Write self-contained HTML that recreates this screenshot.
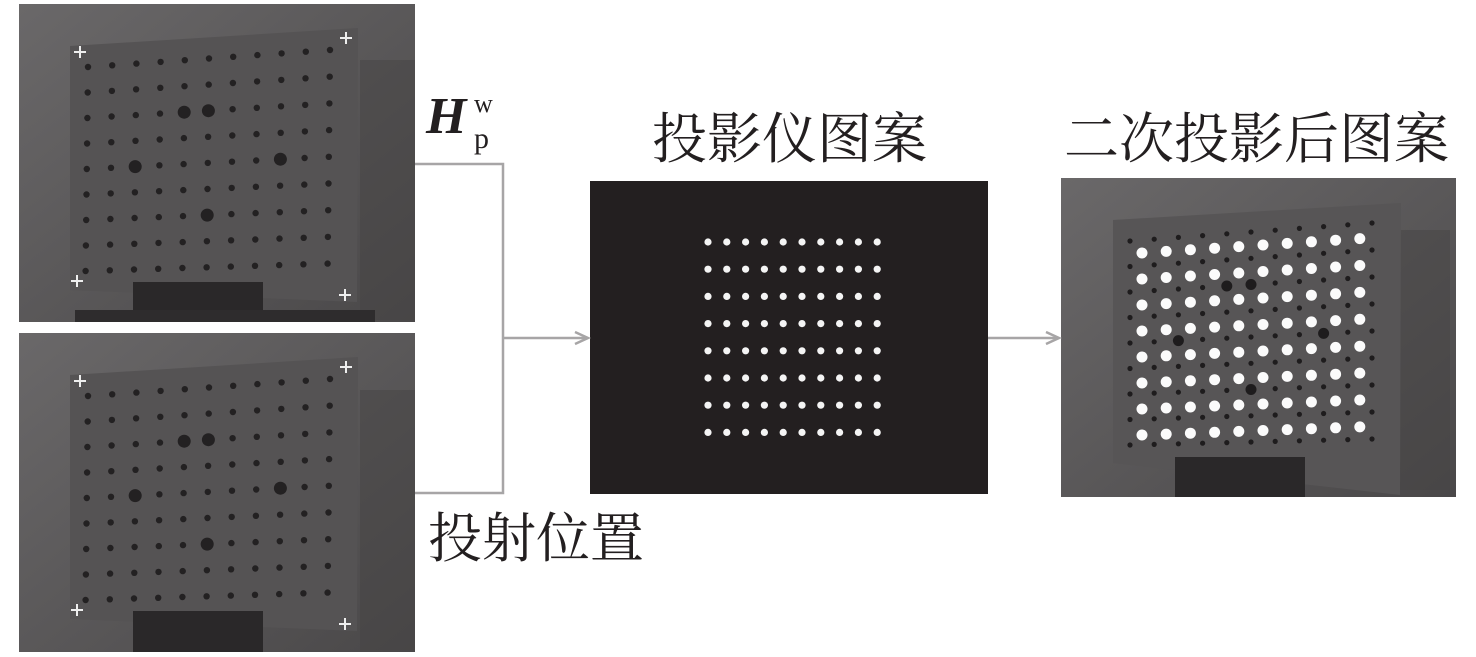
<!DOCTYPE html>
<html><head><meta charset="utf-8">
<style>
html,body{margin:0;padding:0;background:#fff;}
body{width:1476px;height:657px;overflow:hidden;position:relative;}
.cjk{position:absolute;font-family:"Liberation Serif","Noto Serif CJK SC",serif;color:#231f20;white-space:nowrap;line-height:1;}
</style></head><body>
<svg id="s" width="1476" height="657" style="position:absolute;left:0;top:0">
<defs>
<linearGradient id="bg" x1="0" y1="0" x2="1" y2="1">
<stop offset="0" stop-color="#6a6869"/><stop offset="1" stop-color="#4a4849"/></linearGradient>
</defs>
<rect x="19" y="4" width="396" height="318" fill="url(#bg)"/>
<rect x="360" y="60" width="55" height="260" fill="#454344" opacity="0.5"/>
<polygon points="70,46 358,28 357,302 70,290" fill="#555354"/>
<rect x="133" y="282" width="130" height="40" fill="#2a2829"/>
<rect x="75" y="310" width="300" height="12" fill="#2e2c2d"/>
<rect x="19" y="333" width="396" height="319" fill="url(#bg)"/>
<rect x="360" y="390" width="55" height="260" fill="#454344" opacity="0.5"/>
<polygon points="70,375 358,357 357,631 70,619" fill="#555354"/>
<rect x="133" y="611" width="130" height="41" fill="#2a2829"/>
<rect x="590" y="181" width="398" height="313" fill="#231f20"/>
<rect x="1061" y="178" width="395" height="319" fill="url(#bg)"/>
<rect x="1400" y="230" width="50" height="260" fill="#454344" opacity="0.5"/>
<polygon points="1113,220 1401,203 1400,495 1113,463" fill="#575556"/>
<rect x="1175" y="457" width="130" height="40" fill="#2a2829"/>
<g id="dots"></g>
<g stroke="#a7a5a6" stroke-width="2.5" fill="none">
<polyline points="415,164 503,164 503,493 415,493"/>
<line x1="503" y1="338" x2="588" y2="338"/>
<polyline points="575,332 588,338 575,344"/>
<line x1="988" y1="338" x2="1059" y2="338"/>
<polyline points="1046,332 1059,338 1046,344"/>
</g>
<text x="426" y="133" font-family="Liberation Serif,serif" font-size="52" font-weight="bold" font-style="italic" fill="#231f20">H</text>
<text x="474" y="148" font-family="Liberation Serif,serif" font-size="30" fill="#231f20">p</text>
<text x="474" y="112" font-family="Liberation Serif,serif" font-size="26" fill="#231f20">w</text>
</svg>
<div class="cjk" style="left:652px;top:112px;font-size:55px;">投影仪图案</div>
<div class="cjk" style="left:1064px;top:112px;font-size:55px;">二次投影后图案</div>
<div class="cjk" style="left:428px;top:512px;font-size:54px;">投射位置</div>
<script>
var g=document.getElementById('dots'),h='';
function c(x,y,r,f){h+='<circle cx="'+x.toFixed(1)+'" cy="'+y.toFixed(1)+'" r="'+r+'" fill="'+f+'"/>';}
function board(ox,oy){
 for(var j=0;j<9;j++)for(var i=0;i<11;i++){
  var x=ox+88+i*24.2-j*0.3, y=oy+67-i*1.7+j*25.5+i*j*0.12;
  var big=(j==2&&(i==4||i==5))||(j==4&&(i==2||i==8))||(j==6&&i==5);
  c(x,y,big?6.5:3.2,'#232122');
 }
 [[80,52],[346,38],[77,281],[345,295]].forEach(function(p){
  h+='<path d="M'+(ox+p[0]-6)+' '+(oy+p[1])+'h12M'+(ox+p[0])+' '+(oy+p[1]-6)+'v12" stroke="#eee" stroke-width="2"/>';});
}
board(0,0);board(0,329);
for(var j=0;j<8;j++)for(var i=0;i<10;i++){c(708+i*18.8,242+j*27.2,3.6,'#f4f4f4');}
for(var j=0;j<9;j++)for(var i=0;i<11;i++){
 var x=1130+i*24.2, y=241-i*1.8+j*25.5+i*j*0.15;
 var big=(j==2&&(i==4||i==5))||(j==4&&(i==2||i==8))||(j==6&&i==5);
 c(x,y,big?5.5:2.6,'#1e1c1d');}
for(var j=0;j<8;j++)for(var i=0;i<10;i++){
 var x=1142+i*24.2, y=253-i*1.6+j*26+i*j*0.1;
 c(x,y,5.5,'#fbfbfb');}
g.innerHTML=h;
</script>
</body></html>
